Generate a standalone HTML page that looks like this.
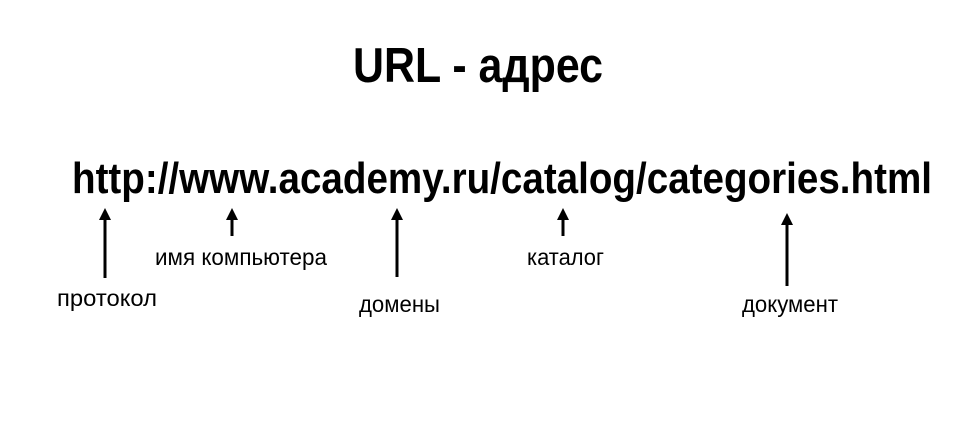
<!DOCTYPE html>
<html><head><meta charset="utf-8"><style>
html,body{margin:0;padding:0;background:#fff;}
svg{display:block;}
text{font-family:"Liberation Sans",Arial,sans-serif;fill:#000;}
</style></head><body>
<svg width="966" height="422" viewBox="0 0 966 422" xmlns="http://www.w3.org/2000/svg">
<defs><marker id="a" markerWidth="4" markerHeight="4" refX="2" refY="2" orient="auto" markerUnits="strokeWidth"><path d="M0,0 L4,2 L0,4 z" fill="#000"/></marker></defs>
<text x="353" y="82" font-size="49" font-weight="bold" textLength="250" lengthAdjust="spacingAndGlyphs">URL - адрес</text>
<text x="72" y="193" font-size="44" font-weight="bold" textLength="860" lengthAdjust="spacingAndGlyphs">http://www.academy.ru/catalog/categories.html</text>
<g stroke="#000" stroke-width="3" fill="none">
<line x1="105" y1="278" x2="105" y2="214" marker-end="url(#a)"/>
<line x1="232" y1="236" x2="232" y2="214" marker-end="url(#a)"/>
<line x1="397" y1="277" x2="397" y2="214" marker-end="url(#a)"/>
<line x1="563" y1="236" x2="563" y2="214" marker-end="url(#a)"/>
<line x1="787" y1="286" x2="787" y2="219" marker-end="url(#a)"/>
</g>
<g font-size="23">
<text x="57" y="306" textLength="100" lengthAdjust="spacingAndGlyphs">протокол</text>
<text x="155" y="265" textLength="172" lengthAdjust="spacingAndGlyphs">имя компьютера</text>
<text x="359" y="312" textLength="81" lengthAdjust="spacingAndGlyphs">домены</text>
<text x="527" y="265" textLength="77" lengthAdjust="spacingAndGlyphs">каталог</text>
<text x="742" y="312" textLength="96" lengthAdjust="spacingAndGlyphs">документ</text>
</g>
</svg>
</body></html>
